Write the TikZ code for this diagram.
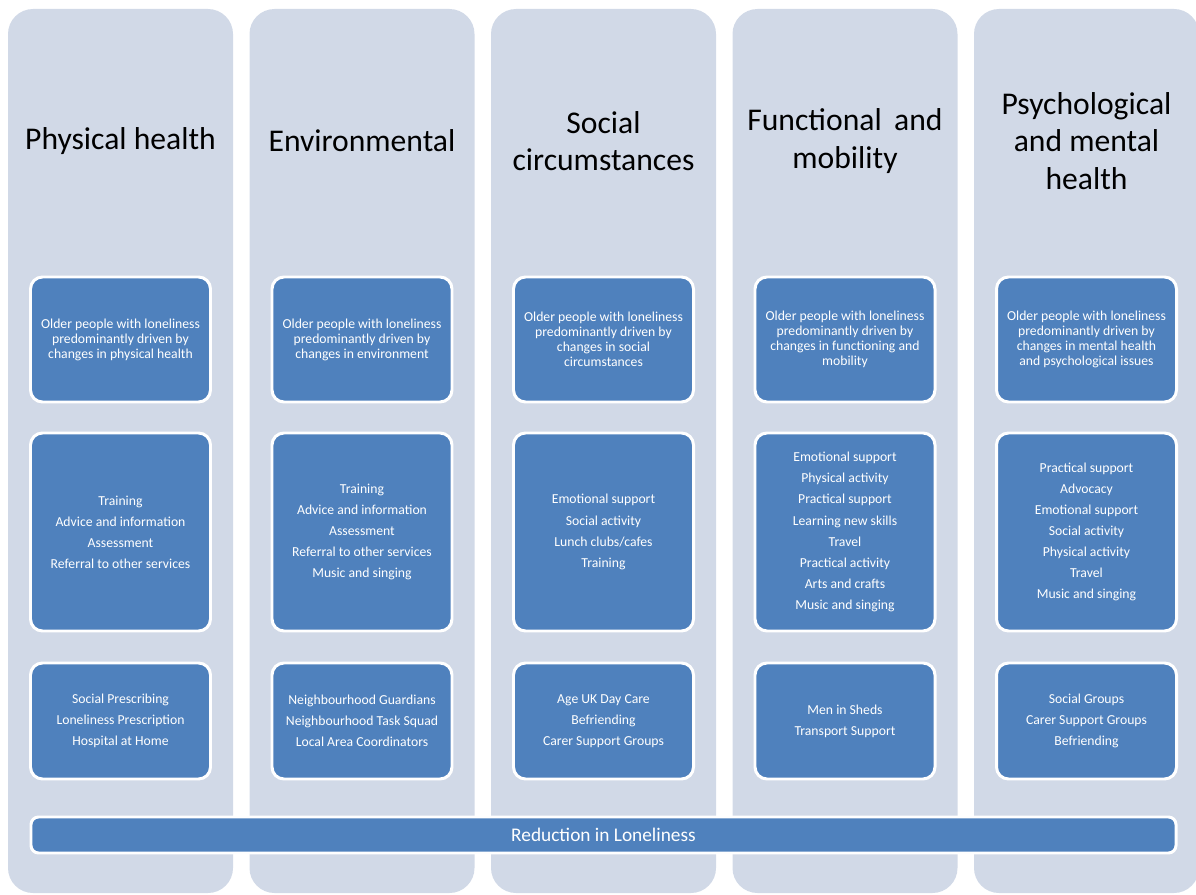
\documentclass[tikz,border=0pt]{standalone}
\usepackage{fontspec}
\setmainfont{Carlito}
\definecolor{laneblue}{HTML}{D1D9E7}
\definecolor{boxblue}{HTML}{4F81BD}

\begin{document}
\begin{tikzpicture}[
  lane/.style={rectangle, fill=laneblue, draw=none, rounded corners=0.5cm,
    minimum width=4.5cm, minimum height=17.68cm, inner sep=0pt},
  lanetitle/.style={align=center, text=black, font=\fontsize{18}{21.3}\selectfont},
  bluebox/.style={rectangle, fill=boxblue, draw=white, line width=1.7pt,
    rounded corners=0.24cm, minimum width=3.6cm, text=white, align=center, inner sep=2pt},
  groupbox/.style={bluebox, minimum height=2.5cm, font=\fontsize{7.8}{8.5}\selectfont},
  listbox/.style={bluebox, minimum height=3.96cm, font=\fontsize{7.8}{12}\selectfont},
  servicebox/.style={bluebox, minimum height=2.32cm, font=\fontsize{7.8}{12}\selectfont},
]
\useasboundingbox (0,0) rectangle (23.92,-17.9);

% ---- lanes ----
\node[lane] (lane1) at (2.41, -9.02)  {};
\node[lane] (lane2) at (7.24, -9.02)  {};
\node[lane] (lane3) at (12.07, -9.02) {};
\node[lane] (lane4) at (16.9, -9.02)  {};
\node[lane] (lane5) at (21.73, -9.02) {};

% ---- lane titles ----
\node[lanetitle] (t1) at (2.41, -2.82)  {Physical health};
\node[lanetitle] (t2) at (7.24, -2.82)  {Environmental};
\node[lanetitle] (t3) at (12.07, -2.82) {Social\\circumstances};
\node[lanetitle] (t4) at (16.9, -2.82)  {Functional\, and\\mobility};
\node[lanetitle] (t5) at (21.73, -2.82) {Psychological\\and mental\\health};

% ---- row 1: groups ----
\node[groupbox] (g1) at (2.41, -6.79)  {Older people with loneliness\\predominantly driven by\\changes in physical health};
\node[groupbox] (g2) at (7.24, -6.79)  {Older people with loneliness\\predominantly driven by\\changes in environment};
\node[groupbox] (g3) at (12.07, -6.79) {Older people with loneliness\\predominantly driven by\\changes in social\\circumstances};
\node[groupbox] (g4) at (16.9, -6.79)  {Older people with loneliness\\predominantly driven by\\changes in functioning and\\mobility};
\node[groupbox] (g5) at (21.73, -6.79) {Older people with loneliness\\predominantly driven by\\changes in mental health\\and psychological issues};

% ---- row 2: needs ----
\node[listbox] (n1) at (2.41, -10.64)  {Training\\Advice and information\\Assessment\\Referral to other services};
\node[listbox] (n2) at (7.24, -10.64)  {Training\\Advice and information\\Assessment\\Referral to other services\\Music and singing};
\node[listbox] (n3) at (12.07, -10.64) {Emotional support\\Social activity\\Lunch clubs/cafes\\Training};
\node[listbox] (n4) at (16.9, -10.64)  {Emotional support\\Physical activity\\Practical support\\Learning new skills\\Travel\\Practical activity\\Arts and crafts\\Music and singing};
\node[listbox] (n5) at (21.73, -10.64) {Practical support\\Advocacy\\Emotional support\\Social activity\\Physical activity\\Travel\\Music and singing};

% ---- row 3: services ----
\node[servicebox] (s1) at (2.41, -14.42)  {Social Prescribing\\Loneliness Prescription\\Hospital at Home};
\node[servicebox] (s2) at (7.24, -14.42)  {Neighbourhood Guardians\\Neighbourhood Task Squad\\Local Area Coordinators};
\node[servicebox] (s3) at (12.07, -14.42) {Age UK Day Care\\Befriending\\Carer Support Groups};
\node[servicebox] (s4) at (16.9, -14.42)  {Men in Sheds\\Transport Support};
\node[servicebox] (s5) at (21.73, -14.42) {Social Groups\\Carer Support Groups\\Befriending};

% ---- outcome bar ----
\node[bluebox, minimum width=22.9cm, minimum height=0.72cm, rounded corners=0.15cm,
  font=\fontsize{11}{13}\selectfont] (outcome) at (12.07, -16.7) {Reduction in Loneliness};

\end{tikzpicture}
\end{document}
